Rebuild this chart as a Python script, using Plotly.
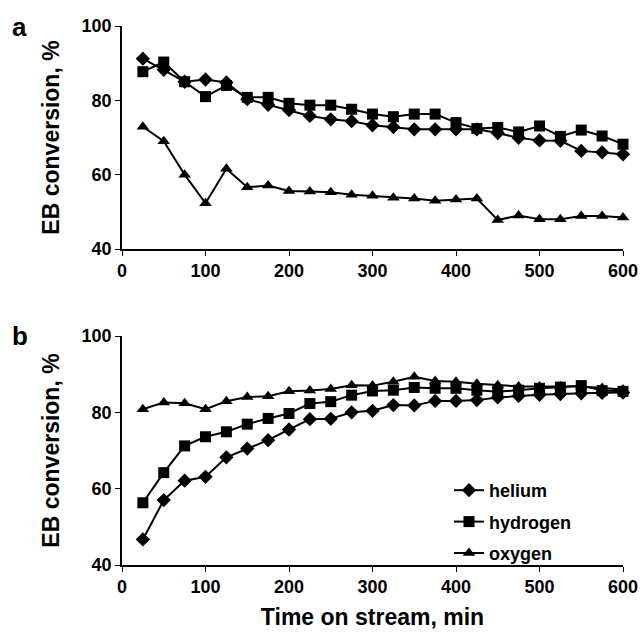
import plotly.graph_objects as go

time_min = [25, 50, 75, 100, 125, 150, 175, 200, 225, 250, 275, 300,
            325, 350, 375, 400, 425, 450, 475, 500, 525, 550, 575, 600]

# Panel a
a_helium = [91.2, 88.2, 85.0, 85.6, 84.8, 80.3, 78.8, 77.4, 75.8, 74.9, 74.4, 73.3,
            72.8, 72.2, 72.2, 72.2, 72.2, 71.2, 69.9, 69.2, 69.1, 66.4, 66.0, 65.5]
a_hydrogen = [87.7, 90.3, 85.0, 81.0, 84.0, 80.8, 80.8, 79.2, 78.7, 78.7, 77.6, 76.3,
              75.6, 76.3, 76.3, 74.0, 72.4, 72.7, 71.5, 73.1, 70.3, 72.0, 70.4, 68.2]
a_oxygen = [72.9, 69.0, 60.0, 52.3, 61.6, 56.6, 57.1, 55.6, 55.5, 55.3, 54.6, 54.3,
            53.8, 53.6, 53.0, 53.3, 53.6, 47.8, 49.0, 48.0, 48.0, 48.9, 48.9, 48.5]

# Panel b
b_helium = [46.7, 57.0, 62.1, 63.1, 68.2, 70.5, 72.7, 75.5, 78.2, 78.3, 80.0, 80.4,
            81.9, 81.8, 83.0, 83.0, 83.2, 83.9, 84.3, 84.6, 84.8, 85.0, 85.1, 85.2]
b_hydrogen = [56.3, 64.2, 71.2, 73.6, 74.9, 76.9, 78.4, 79.7, 82.3, 82.8, 84.5, 85.6,
              85.8, 86.5, 86.3, 86.3, 85.8, 85.4, 85.8, 86.3, 86.6, 87.0, 85.7, 85.5]
b_oxygen = [80.8, 82.6, 82.4, 80.8, 82.9, 84.0, 84.2, 85.5, 85.7, 86.1, 87.1, 87.0,
            88.0, 89.3, 88.2, 88.0, 87.5, 87.1, 86.8, 86.8, 86.8, 86.8, 86.4, 86.0]

x_tick_vals = [0, 100, 200, 300, 400, 500, 600]
y_tick_vals = [40, 60, 80, 100]

series_names = ["helium", "hydrogen", "oxygen"]
symbols = {"helium": "diamond", "hydrogen": "square", "oxygen": "triangle-up"}
sizes = {"helium": 11, "hydrogen": 11, "oxygen": 11}

FONT = "Liberation Sans, Arial, Helvetica, sans-serif"

fig = go.Figure()

panel_a = {"helium": a_helium, "hydrogen": a_hydrogen, "oxygen": a_oxygen}
panel_b = {"helium": b_helium, "hydrogen": b_hydrogen, "oxygen": b_oxygen}

for name in series_names:
    fig.add_trace(go.Scatter(
        x=time_min, y=panel_a[name], mode="lines+markers", name=name,
        line=dict(color="black", width=2),
        marker=dict(symbol=symbols[name], size=sizes[name], color="black"),
        xaxis="x", yaxis="y", showlegend=False, cliponaxis=False))

for name in series_names:
    fig.add_trace(go.Scatter(
        x=time_min, y=panel_b[name], mode="lines+markers", name=name,
        line=dict(color="black", width=2),
        marker=dict(symbol=symbols[name], size=sizes[name], color="black"),
        xaxis="x2", yaxis="y2", showlegend=True, legendgroup=name, cliponaxis=False))

W, H = 641, 636
xdom = [122 / W, 623 / W]
ydom_a = [1 - 249 / H, 1 - 26 / H]
ydom_b = [1 - 565 / H, 1 - 336 / H]

tickfont = dict(family=FONT, size=18, color="black", weight="bold")
common_x = dict(range=[0, 600], tickvals=x_tick_vals,
                showline=True, linecolor="black", linewidth=1.5,
                ticks="outside", ticklen=5, tickwidth=1.2, tickcolor="black",
                showgrid=False, zeroline=False, tickfont=tickfont, automargin=False)
common_y = dict(range=[40, 100], tickvals=y_tick_vals,
                showline=True, linecolor="black", linewidth=1.5,
                ticks="outside", ticklen=5, tickwidth=1.2, tickcolor="black",
                showgrid=False, zeroline=False, tickfont=tickfont, automargin=False)

titlefont = dict(family=FONT, size=23, color="black", weight="bold")

fig.update_layout(
    width=W, height=H,
    margin=dict(l=0, r=0, t=0, b=0),
    paper_bgcolor="white", plot_bgcolor="white",
    font=dict(family=FONT, color="black"),
    xaxis=dict(domain=xdom, anchor="y", **common_x),
    yaxis=dict(domain=ydom_a, anchor="x",
               title=dict(text="EB conversion, %", font=titlefont, standoff=16), **common_y),
    xaxis2=dict(domain=xdom, anchor="y2",
                title=dict(text="Time on stream, min", font=titlefont, standoff=13), **common_x),
    yaxis2=dict(domain=ydom_b, anchor="x2",
                title=dict(text="EB conversion, %", font=titlefont, standoff=16), **common_y),
    legend=dict(x=449 / W, y=1 - 472 / H, xanchor="left", yanchor="top",
                bgcolor="rgba(0,0,0,0)", font=dict(family=FONT, size=18, color="black", weight="bold"),
                traceorder="grouped", tracegroupgap=5, itemwidth=30),
    annotations=[
        dict(text="a", x=10 / W, y=1 - 27 / H, xref="paper", yref="paper",
             xanchor="left", yanchor="middle", showarrow=False,
             font=dict(family=FONT, size=26, color="black", weight="bold")),
        dict(text="b", x=10 / W, y=1 - 336 / H, xref="paper", yref="paper",
             xanchor="left", yanchor="middle", showarrow=False,
             font=dict(family=FONT, size=26, color="black", weight="bold")),
    ],
)

fig.write_html("out.html", config={"displayModeBar": False},
               post_script="document.body.style.margin='0px';")
